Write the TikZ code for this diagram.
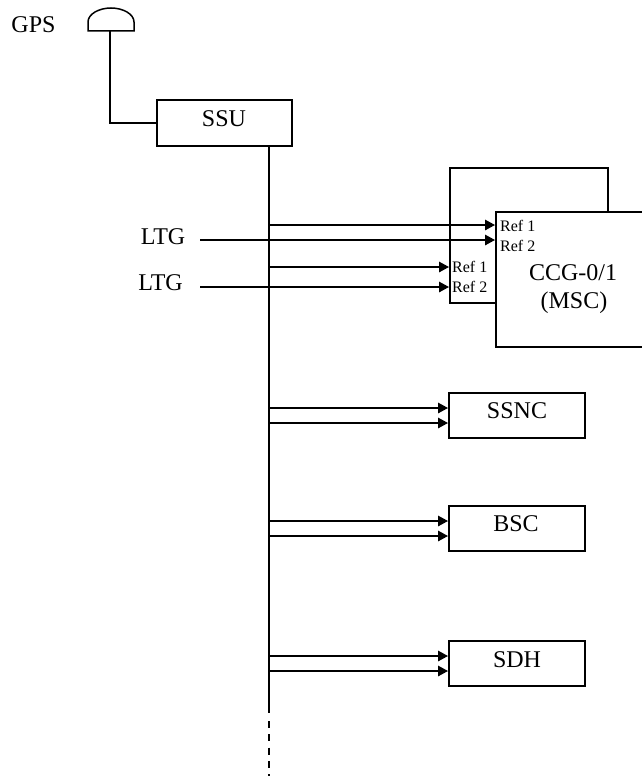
\documentclass[tikz,border=0pt]{standalone}
\usepackage{fontspec}
\setmainfont{Liberation Serif}
\usetikzlibrary{arrows.meta}
\tikzset{
  line/.style={draw=black,line width=1.5pt},
  arr/.style={line,-{Triangle[length=10pt,width=10.5pt]}},
  box/.style={line,fill=white,rectangle,inner sep=0pt,anchor=north west},
  big/.style={font=\fontsize{24}{28}\selectfont,inner sep=0pt},
  small/.style={font=\fontsize{16}{19}\selectfont,inner sep=0pt,anchor=west},
}
\begin{document}
\begin{tikzpicture}[x=1pt,y=-1pt]
\useasboundingbox (0,0) rectangle (642,776);
% boxes
\node[box,minimum width=135pt,minimum height=46pt] (ssu) at (156,99) {};
\node[big] at (224,118.5) (ssut) {SSU};
\node[box,minimum width=158pt,minimum height=135pt] (back) at (449,167) {};
\node[box,minimum width=147pt,minimum height=135pt] (ccg) at (495,211) {};
\node[box,minimum width=136pt,minimum height=45pt] (ssnc) at (448,392) {};
\node[box,minimum width=136pt,minimum height=45pt] (bsc) at (448,505) {};
\node[box,minimum width=136pt,minimum height=45pt] (sdh) at (448,640) {};
% texts
\node[big] (gps) at (33.5,24.5) {GPS};
\node[big] (ltga) at (163,236.5) {LTG};
\node[big] (ltgb) at (160.5,282.5) {LTG};
\node[big] (ccgt) at (573,272.5) {CCG-0/1};
\node[big] (msct) at (574,303) {(MSC)};
\node[big] (ssnct) at (517,410.5) {SSNC};
\node[big] (bsct) at (516,524) {BSC};
\node[big] (sdht) at (517,660) {SDH};
\node[small] (r1) at (500,225.5) {Ref 1};
\node[small] (r2) at (500,245.5) {Ref 2};
\node[small] (r3) at (452,266.5) {Ref 1};
\node[small] (r4) at (452,286.5) {Ref 2};
% GPS antenna
\draw[line] (88,31) -- (88,22) .. controls (88,14) and (99,8) .. (111,8) .. controls (123,8) and (134,14) .. (134,22) -- (134,31) -- cycle;
\coordinate (ant) at (110,31);
\draw[line] (ant) |- (ssu.west);
% trunk
\coordinate (ssub) at (269,145);
\coordinate (tend) at (269,713);
\coordinate (dstart) at (269,721);
\coordinate (dend) at (269,776);
\draw[line] (ssub) -- (tend);
\draw[line,dash pattern=on 7pt off 6.3pt] (dstart) -- (dend);
% arrows
\coordinate (t1) at (269,225);
\coordinate (t2) at (200,240);
\coordinate (t3) at (269,267);
\coordinate (t4) at (200,287);
\draw[arr] (t1) -- (t1 -| ccg.west);
\draw[arr] (t2) -- (t2 -| ccg.west);
\draw[arr] (t3) -- (t3 -| back.west);
\draw[arr] (t4) -- (t4 -| back.west);
\coordinate (t5) at (269,408);
\coordinate (t6) at (269,423);
\coordinate (t7) at (269,521);
\coordinate (t8) at (269,536);
\coordinate (t9) at (269,656);
\coordinate (t10) at (269,671);
\draw[arr] (t5) -- (t5 -| ssnc.west);
\draw[arr] (t6) -- (t6 -| ssnc.west);
\draw[arr] (t7) -- (t7 -| bsc.west);
\draw[arr] (t8) -- (t8 -| bsc.west);
\draw[arr] (t9) -- (t9 -| sdh.west);
\draw[arr] (t10) -- (t10 -| sdh.west);
\end{tikzpicture}
\end{document}
